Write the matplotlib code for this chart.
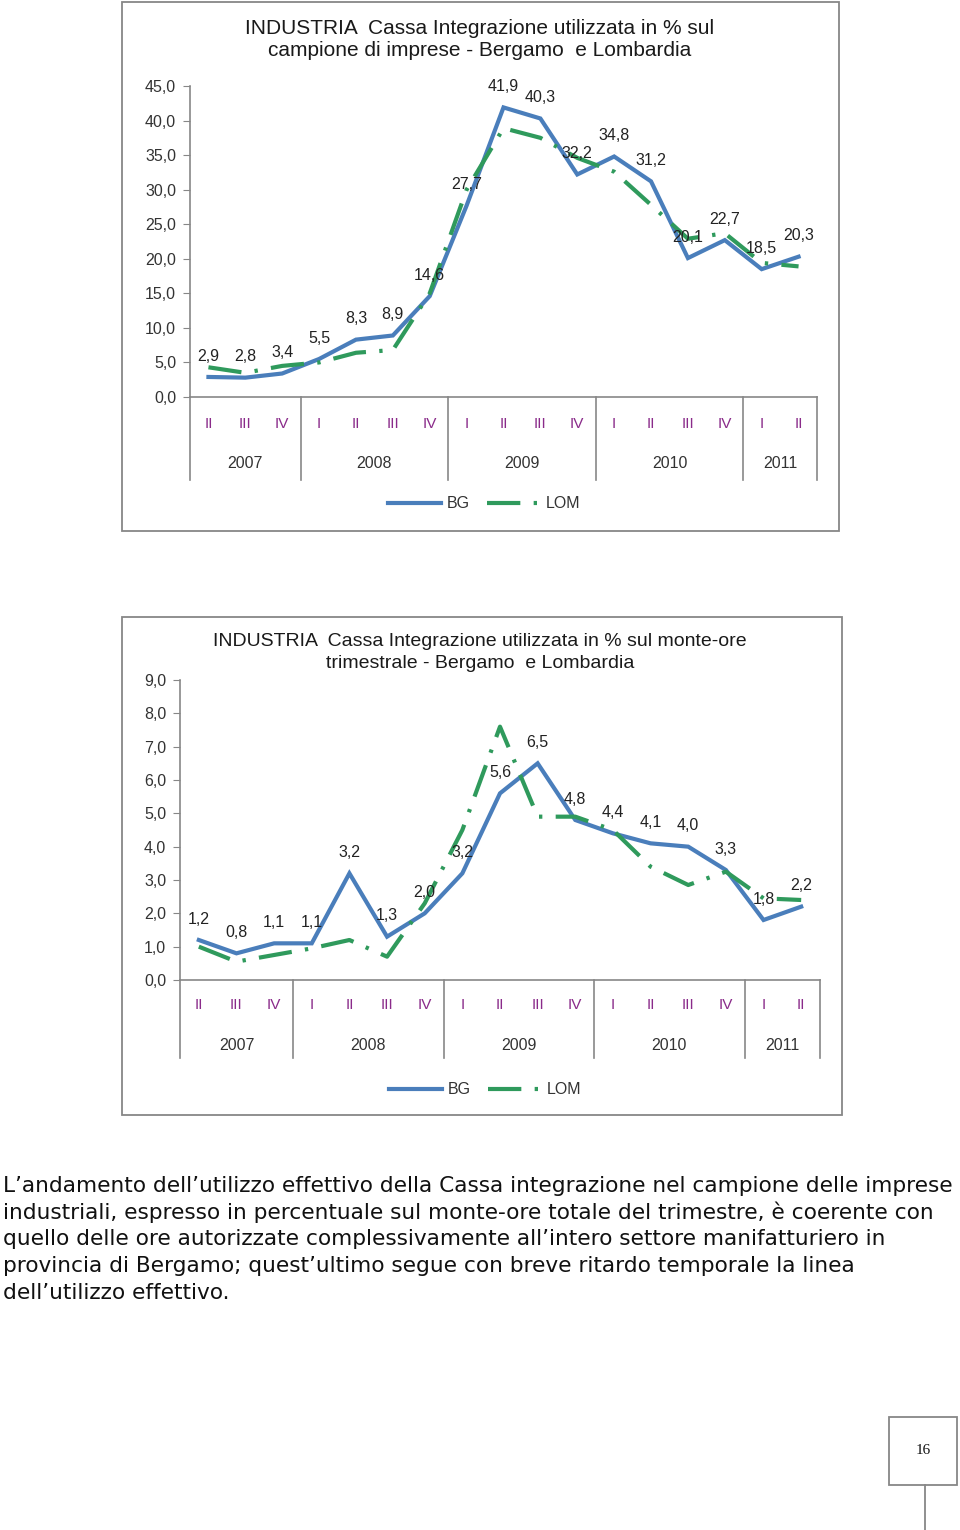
import matplotlib
matplotlib.use("Agg")
import matplotlib.pyplot as plt
from matplotlib.patches import Rectangle
from matplotlib.lines import Line2D
from matplotlib.transforms import offset_copy
import numpy as np

# categorie (trimestri 2007 II .. 2011 II)
quarters = ["II", "III", "IV", "I", "II", "III", "IV", "I", "II", "III", "IV",
            "I", "II", "III", "IV", "I", "II"]
years = ["2007", "2008", "2009", "2010", "2011"]
year_len = [3, 4, 4, 4, 2]

# grafico 1: % sul campione di imprese
bg_imprese = [2.9, 2.8, 3.4, 5.5, 8.3, 8.9, 14.6, 27.7, 41.9, 40.3, 32.2,
              34.8, 31.2, 20.1, 22.7, 18.5, 20.3]
lom_imprese = [4.3, 3.5, 4.5, 5.0, 6.4, 6.8, 15.0, 30.0, 38.9, 37.5, 34.6,
               32.6, 27.8, 22.9, 23.7, 19.4, 18.9]

# grafico 2: % sul monte-ore trimestrale
bg_monte = [1.2, 0.8, 1.1, 1.1, 3.2, 1.3, 2.0, 3.2, 5.6, 6.5, 4.8, 4.4,
            4.1, 4.0, 3.3, 1.8, 2.2]
lom_monte = [1.0, 0.55, 0.75, 0.95, 1.2, 0.7, 2.3, 4.5, 7.6, 4.9, 4.9, 4.5,
             3.4, 2.85, 3.25, 2.45, 2.4]

title_1 = ["INDUSTRIA  Cassa Integrazione utilizzata in % sul",
           "campione di imprese - Bergamo  e Lombardia"]
title_2 = ["INDUSTRIA  Cassa Integrazione utilizzata in % sul monte-ore",
           "trimestrale - Bergamo  e Lombardia"]

paragraph = [
    "L\u2019andamento dell\u2019utilizzo effettivo della Cassa integrazione nel campione delle imprese",
    "industriali, espresso in percentuale sul monte-ore totale del trimestre, \u00e8 coerente con",
    "quello delle ore autorizzate complessivamente all\u2019intero settore manifatturiero in",
    "provincia di Bergamo; quest\u2019ultimo segue con breve ritardo temporale la linea",
    "dell\u2019utilizzo effettivo.",
]

BLUE = "#4a7ebb"
GREEN = "#2f9a5c"
GRAY = "#878787"
NARROW = ["Liberation Sans", "DejaVu Sans"]

W, H = 960, 1530
fig = plt.figure(figsize=(W / 100, H / 100), dpi=100)


def fx(px):
    return px / W


def fy(py):
    return 1 - py / H


def comma(v):
    return "{:.1f}".format(v).replace(".", ",")


def draw_chart(frame, box, titles, title_y, title_size, bg, lom, ymax, ystep,
               q_off, yr_off, sep_off, legend_xy):
    x0, y0, x1, y1 = frame
    fig.patches.append(Rectangle((fx(x0), fy(y1)), fx(x1 - x0), (y1 - y0) / H,
                                 transform=fig.transFigure, fill=False,
                                 edgecolor=GRAY, lw=1.3))
    for t, ty in zip(titles, title_y):
        fig.text(fx(480), fy(ty), t, ha="center", va="center",
                 fontsize=title_size, family=NARROW, color="#1a1a1a")

    bx0, by_top, bx1, by_bot = box
    ax = fig.add_axes([fx(bx0), fy(by_bot), fx(bx1 - bx0), (by_bot - by_top) / H])
    n = len(bg)
    x = np.arange(n)
    ax.plot(x, bg, color=BLUE, lw=3.0, solid_joinstyle="miter")
    ax.plot(x, lom, color=GREEN, lw=3.0, dashes=(8, 3.2, 0.8, 3.2),
            dash_capstyle="butt")
    for xi, v in zip(x, bg):
        ax.annotate(comma(v), (xi, v), xytext=(0, 15), textcoords="offset points",
                    ha="center", va="center", fontsize=11.5, family=NARROW,
                    color="#222222")

    ax.set_xlim(-0.5, n - 0.5)
    ax.set_ylim(0, ymax)
    ticks = np.arange(0, ymax + 0.01, ystep)
    ax.set_yticks(ticks)
    ax.set_yticklabels([comma(t) for t in ticks], family=NARROW, fontsize=11.5,
                       color="#333333")
    ax.tick_params(axis="y", direction="out", length=5, color=GRAY, pad=5)
    ax.set_xticks([])
    for s in ["top", "right"]:
        ax.spines[s].set_visible(False)
    for s in ["left", "bottom"]:
        ax.spines[s].set_color(GRAY)
        ax.spines[s].set_linewidth(1.2)

    xt = ax.get_xaxis_transform()
    q_tr = offset_copy(xt, fig=fig, y=-q_off, units="dots")
    yr_tr = offset_copy(xt, fig=fig, y=-yr_off, units="dots")
    for xi, q in zip(x, quarters):
        ax.text(xi, 0, q, transform=q_tr, ha="center", va="center",
                fontsize=11, family=NARROW, color="#8a2b8a")
    ax_h = by_bot - by_top
    start = -0.5
    bounds = [start]
    for name, ln in zip(years, year_len):
        ax.text(start + ln / 2, 0, name, transform=yr_tr, ha="center",
                va="center", fontsize=11.5, family=NARROW, color="#333333")
        start += ln
        bounds.append(start)
    for b in bounds:
        ax.plot([b, b], [0, -sep_off / ax_h], transform=xt, color=GRAY,
                lw=1.2, clip_on=False)

    handles = [Line2D([], [], color=BLUE, lw=3.0),
               Line2D([], [], color=GREEN, lw=3.0, dashes=(8, 3.2, 0.8, 3.2),
                      dash_capstyle="butt")]
    fig.legend(handles, ["BG", "LOM"], loc="center",
               bbox_to_anchor=(fx(legend_xy[0]), fy(legend_xy[1])), ncol=2,
               frameon=False, handlelength=3.3, handletextpad=0.35,
               columnspacing=1.1, prop={"family": NARROW, "size": 11.5},
               labelcolor="#333333")
    return ax


draw_chart((122, 2, 839, 531), (190, 86, 817, 397), title_1, (28, 51), 15,
           bg_imprese, lom_imprese, 45, 5, 27, 67, 83, (484, 504))
draw_chart((122, 617, 842, 1115), (180, 680, 820, 980), title_2, (641, 663), 14,
           bg_monte, lom_monte, 9, 1, 25, 65, 78, (485, 1090))

for i, line in enumerate(paragraph):
    fig.text(fx(3), fy(1186 + i * 26.7), line, ha="left", va="center",
             fontsize=15.6, family="DejaVu Sans", color="#111111")

# riquadro numero di pagina
fig.patches.append(Rectangle((fx(889), fy(1485)), fx(68), 68 / H,
                             transform=fig.transFigure, fill=False,
                             edgecolor=GRAY, lw=1.3))
fig.lines.append(Line2D([fx(925), fx(925)], [fy(1485), fy(1530)],
                        transform=fig.transFigure, color=GRAY, lw=1.3))
fig.text(fx(923), fy(1451), "16", ha="center", va="center", fontsize=11,
         family="Liberation Serif", color="#111111")

fig.savefig("out.png", dpi=100)
